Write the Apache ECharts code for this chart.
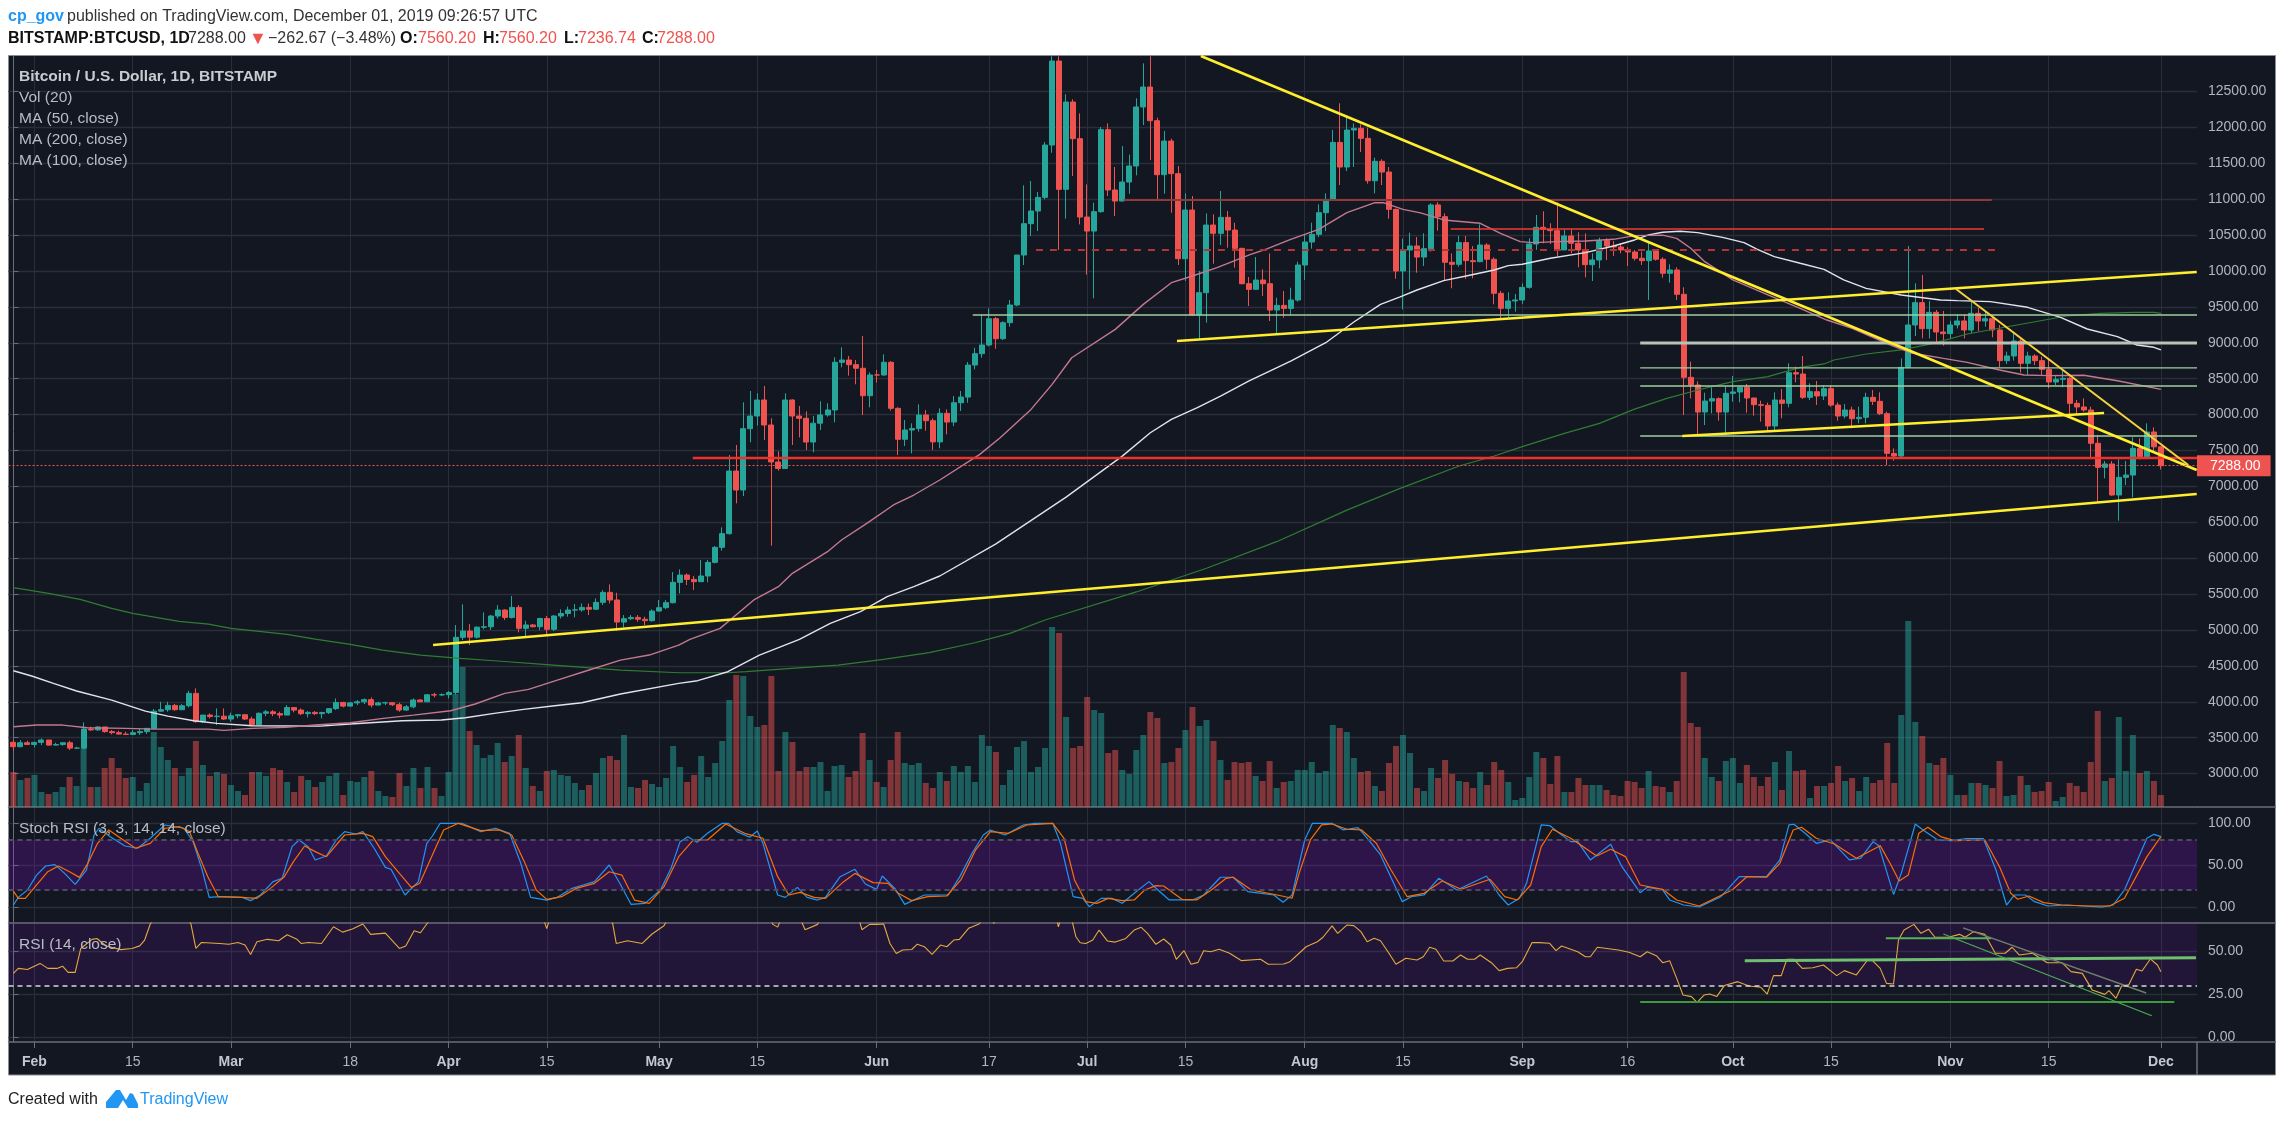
<!DOCTYPE html>
<html><head><meta charset="utf-8"><style>html,body{margin:0;padding:0;background:#fff}#c{width:2284px;height:1122px}</style>
<script src="https://cdn.jsdelivr.net/npm/echarts@6/dist/echarts.min.js"></script></head><body><div id="c"></div>
<script>
// x positions are bar numbers: 0 = 29 Jan 2019, 306 = 1 Dec 2019
const firstOpen = 3436;
const close = [3375,3430,3406,3435,3468,3397,3405,3430,3355,3355,
3620,3608,3650,3585,3570,3550,3545,3570,3585,3630,
3870,3890,3950,3890,3945,4117,3723,3815,3795,3800,
3760,3805,3820,3760,3680,3840,3860,3835,3815,3920,
3885,3835,3853,3835,3850,3905,3990,3940,3985,4000,
4030,3955,3985,3987,3960,3885,3930,4025,4000,4098,
4095,4100,4130,4898,4985,4900,5040,5045,5195,5278,
5175,5315,5023,5070,5045,5160,5010,5195,5230,5278,
5280,5315,5290,5385,5524,5418,5111,5158,5175,5150,
5130,5264,5311,5380,5664,5766,5705,5673,5752,5942,
6151,6342,7214,6950,7804,7980,8203,7855,7340,7250,
8203,7980,7948,7618,7880,7995,8064,8728,8760,8695,
8645,8263,8552,8551,8728,8087,7656,7785,7805,7994,
7915,7620,8018,7896,8165,8244,8690,8848,8969,9335,
9057,9280,9526,10222,10659,10835,11025,11754,12924,11137,
12353,11843,10751,10556,10826,11968,11128,10974,11239,11462,
12284,12562,12093,11341,11810,11355,10171,10849,9386,9698,
10640,10524,10747,10570,10315,9823,9744,9874,9823,9456,
9521,9479,9595,10083,10403,10510,10812,10988,11791,11448,
11963,11986,11847,11257,11527,11378,10858,10000,10292,10348,
10194,10311,10920,10757,10121,10093,10395,10144,10130,10362,
10163,9689,9480,9582,9596,9772,10376,10608,10580,10562,
10293,10488,10386,10293,10088,10153,10423,10348,10334,10293,
10265,10177,10144,10279,10163,9968,10014,9675,8519,8412,
8036,8189,8222,8036,8296,8315,8380,8231,8138,8129,
7841,8203,8157,8584,8565,8240,8319,8259,8361,8133,
7980,8064,7943,7962,8240,8185,8013,7460,7423,8658,
9248,9559,9197,9424,9150,9127,9248,9304,9178,9410,
9303,9336,9178,8751,8816,9025,8714,8816,8751,8630,
8454,8491,8505,8157,8106,8064,7600,7265,7312,6880,
7126,7158,7530,7414,7757,7551,7288];
const high = [3467,3467,3458,3444,3490,3467,3430,3434,3458,3374,
3713,3653,3662,3644,3606,3597,3583,3606,3630,3630,
3900,4000,4000,3968,3968,4154,4187,3815,3838,3908,
3908,3848,3829,3824,3792,3853,3885,3885,3862,3955,
3922,3908,3871,3871,3862,3908,4047,4000,4000,4024,
4047,4061,4000,4000,3987,3987,3955,4047,4038,4108,
4126,4117,4150,5069,5357,5083,5050,5245,5210,5347,
5290,5473,5347,5130,5083,5170,5195,5208,5287,5325,
5362,5370,5370,5440,5556,5635,5519,5208,5208,5208,
5185,5287,5417,5417,5807,5844,5788,5752,5975,5975,
6170,6430,7437,7577,8171,8329,8296,8398,7948,7488,
8296,8213,8120,8045,7980,8185,8157,8798,8937,8816,
8760,9095,8589,8621,8839,8746,8101,7925,7878,8143,
8064,7948,8087,8072,8258,8328,8732,8931,9396,9479,
9360,9300,9595,10222,11193,11253,11100,11796,12990,12990,
12460,12390,12195,11206,10951,12005,12056,11448,11740,11620,
12404,12892,12990,12135,11949,11843,11462,11081,11044,10000,
10802,10789,11114,10835,10672,10324,9916,10194,10023,10245,
9628,9721,9767,10129,10510,10672,10928,11081,11963,12335,
12135,12056,12042,11996,11578,11555,11448,10870,10450,10533,
10473,10525,10943,10957,10803,10246,10492,10488,10348,10650,
10386,10190,9722,9703,9680,9828,10455,10780,10831,10664,
10957,10571,10580,10539,10525,10246,10464,10455,10418,10376,
10330,10293,10270,10409,10302,10190,10093,10051,9773,8737,
8463,8305,8380,8240,8389,8538,8389,8426,8235,8194,
8166,8310,8356,8714,8667,8816,8435,8468,8412,8412,
8170,8147,8110,8110,8305,8342,8310,8040,7530,8783,
10348,9828,9944,9582,9457,9443,9308,9396,9396,9582,
9489,9433,9378,9248,8876,9155,9062,8876,8839,8807,
8783,8551,8621,8530,8203,8226,8110,7715,7353,7353,
7376,7353,7683,7669,7878,7822,7560];
const low = [3319,3365,3397,3365,3397,3388,3397,3388,3328,3342,
3337,3597,3597,3570,3546,3546,3537,3537,3537,3551,
3620,3862,3862,3875,3885,3922,3709,3709,3769,3676,
3746,3723,3769,3746,3667,3676,3801,3801,3769,3815,
3853,3815,3783,3815,3769,3830,3885,3922,3931,3955,
3968,3922,3955,3955,3941,3862,3875,3908,3997,3997,
4061,4080,4047,4100,4860,4790,4880,5010,5000,5160,
5140,5160,4967,4906,5036,5000,4944,4985,5160,5185,
5176,5255,5208,5278,5347,5370,4990,5036,5138,5115,
5069,5115,5255,5290,5370,5510,5626,5557,5673,5664,
5928,6105,6327,6764,6866,7614,7846,7646,6174,7219,
7247,7577,7683,7507,7474,7785,7971,7892,8658,8542,
8422,7994,8101,8445,8542,8055,7437,7563,7460,7762,
7776,7507,7530,7724,7840,8050,8165,8630,8792,8950,
8917,9038,9224,9510,10083,10487,10556,10998,11647,10292,
10728,11322,10649,9948,9619,10812,11044,10765,10974,11076,
11332,12033,11545,10974,11076,10812,10083,9860,9373,9047,
9280,10101,10361,10324,10046,9814,9512,9744,9651,9303,
9117,9349,9382,9572,9874,10310,10470,10556,10979,11197,
11392,11448,11657,11216,11081,11197,10728,9893,9465,9744,
9976,10070,10270,10562,9866,9759,10060,9889,9898,10121,
10023,9536,9331,9355,9434,9540,9754,10293,10385,10376,
10209,10293,10246,10051,9912,9861,10037,10153,10209,10246,
10070,10144,10084,9596,10144,9907,9838,9596,7994,8227,
7730,7855,8018,7915,7716,8180,8171,8027,7985,7902,
7776,7786,7948,8101,8449,8217,8203,8134,8203,8110,
7915,7948,7808,7878,7878,8133,7994,7298,7358,7390,
8644,9094,9062,9062,8992,8960,9062,9201,9062,9132,
9164,9225,9076,8658,8705,8751,8584,8551,8690,8542,
8366,8412,8380,8008,8003,8040,7400,6787,7112,6870,
6522,7019,6847,7377,7414,7469,7236];
const volume = [35,27,29,32,15,13,15,20,30,21,
59,20,20,39,49,39,29,30,16,24,
75,60,47,39,31,39,66,42,31,35,
33,22,16,12,35,35,31,39,37,25,
15,31,27,20,25,31,34,12,26,25,
30,36,16,11,10,34,21,39,19,40,
19,11,35,113,140,76,62,49,52,64,
45,51,72,39,21,16,36,37,32,31,
24,17,22,34,49,51,47,72,20,19,
27,23,20,29,61,40,25,32,51,30,
44,66,107,132,131,91,80,82,131,36,
75,65,36,40,40,45,16,41,42,30,
36,74,47,25,20,47,75,44,42,44,
24,19,35,26,41,35,41,25,72,61,
55,22,37,60,66,35,40,59,180,174,
90,59,61,110,97,94,54,57,37,33,
57,72,95,89,44,45,59,77,100,81,
87,66,47,27,45,44,45,31,26,46,
19,25,26,37,37,45,34,36,82,79,
75,49,35,36,21,16,44,61,72,54,
19,16,39,29,47,33,26,25,19,35,
22,45,37,25,7,9,30,55,49,23,
51,15,15,29,22,22,22,17,12,11,
26,25,19,36,21,20,15,26,135,84,
80,49,30,26,46,49,24,42,30,21,
30,45,17,56,36,37,9,21,21,24,
41,26,29,16,30,24,27,64,24,92,
186,85,71,44,42,49,32,12,12,24,
24,22,19,46,11,12,31,22,15,16,
25,6,10,24,21,15,45,96,26,29,
90,36,72,34,36,26,12];

const ma200 = [[0,5589],[5,5510],[9.5,5426],[14,5301],[17,5232],[23.6,5120],[27.8,5083],[31,5022],[39,4939],[43,4874],[48,4800],[52.6,4721],[58,4651],[63.7,4605],[69,4568],[75.5,4521],[81.7,4475],[86.5,4442],[94.8,4405],[101.7,4405],[104.4,4419],[110.9,4466],[117.5,4512],[124,4591],[130.5,4684],[137,4823],[142,4953],[147,5139],[160,5530],[170,5860],[180,6230],[190,6670],[197.6,6973],[206,7284],[211,7423],[215,7553],[221,7739],[226,7878],[230.9,8073],[235.6,8226],[240,8343],[245,8459],[250,8528],[254.6,8658],[258,8705],[259.4,8760],[264,8844],[269,8900],[273.6,8992],[278.4,9122],[285.5,9248],[292.6,9373],[297.4,9410],[302.2,9424],[305,9424],[306,9410]];
const ma100 = [[0,4433],[2.6,4359],[5.7,4256],[9,4150],[14,4024],[18.8,3871],[22,3801],[25.7,3736],[29,3699],[34,3667],[43.7,3662],[48,3690],[55.4,3736],[61,3746],[64.4,3778],[68.5,3839],[72.7,3894],[76.8,3941],[81,3987],[86.5,4108],[94.8,4256],[97.5,4294],[101.8,4419],[106.3,4651],[112,4870],[116.4,5093],[120.7,5255],[124.5,5464],[128.3,5603],[132,5752],[140,6200],[150,6850],[158,7422],[162,7747],[165,7933],[168.7,8096],[172,8258],[176,8467],[182,8746],[187,9001],[191,9289],[194.8,9535],[197.6,9640],[200,9735],[203.8,9866],[207,9930],[211,10014],[213,10075],[215,10093],[219,10177],[224,10256],[228,10348],[231,10432],[233,10502],[235,10539],[237.5,10553],[240,10534],[243.7,10464],[246.6,10395],[248.5,10302],[250.9,10200],[254.6,10107],[258,10023],[260.8,9875],[264,9758],[269,9666],[274.6,9596],[277,9587],[281.7,9573],[287,9494],[291.7,9355],[295.5,9192],[299.8,9085],[302.6,8969],[305,8937],[306,8900]];
const ma50 = [[0,3653],[3.3,3676],[7,3676],[10.5,3639],[16,3630],[20,3620],[27.8,3620],[30,3602],[34,3630],[38.8,3644],[43,3676],[48,3708],[52.7,3769],[57,3815],[62.3,3876],[65.8,3969],[70,4117],[73.4,4173],[77.5,4303],[81.7,4433],[86.5,4581],[90.6,4651],[94.8,4790],[96.4,4870],[100.7,5023],[105.5,5418],[109,5603],[111,5789],[116,6091],[118,6253],[121.6,6485],[125.4,6741],[128.3,6880],[132,7089],[137.7,7446],[140.6,7678],[145,8072],[148,8421],[150.8,8792],[157,9187],[161,9535],[165,9837],[168,9930],[171.5,10046],[176.3,10231],[178.7,10310],[182,10440],[186,10580],[190,10812],[194,10951],[195.2,10951],[198,10858],[200.5,10810],[203.8,10711],[209,10664],[211.9,10525],[214.7,10409],[216.6,10395],[219.9,10409],[224,10418],[228,10441],[231,10492],[235,10500],[237,10455],[239,10316],[241,10130],[245,9875],[250,9666],[254.6,9480],[258.4,9317],[262,9201],[267.5,8969],[270.3,8862],[275,8783],[278.4,8728],[283,8621],[286.5,8551],[290,8542],[295,8547],[299.8,8472],[306,8352]];

const stochK = [[0,2.4],[0.7,11.5],[2,20.2],[3.3,38],[4.6,48.8],[5.9,50.4],[7.3,40],[8.8,27],[10.4,44],[11.5,85.7],[12.2,93.7],[13.8,83.7],[15.9,72.6],[17.7,69.9],[19.5,81.8],[21.6,97.6],[24.3,93.7],[25.6,77.8],[26.9,44],[27.9,11.5],[29.4,12.3],[32.6,11.5],[33.8,7.6],[35.2,14.3],[37,30.2],[38.3,34.2],[39.7,71.8],[40.7,79.8],[42,71.8],[43,56],[44.6,60.7],[46,79.8],[47.2,89.7],[48.8,86.9],[49.8,89.7],[51.4,69.9],[53,47.2],[53.8,44.9],[55.8,14.3],[57.7,30.2],[58.9,75.8],[59.7,84.5],[60.8,99.6],[63.9,99.6],[66.6,89.7],[68.7,93.7],[70.7,87.7],[72.3,52],[73.7,11.5],[76,8.3],[77.5,11.5],[79.6,22.2],[81.2,26.2],[82.8,30.2],[84.9,50],[86.4,28.2],[88,3.2],[90,4.4],[92.2,20.2],[93.7,46],[95,77.8],[96.1,83.7],[97.4,77],[98.9,87.7],[101,99.6],[101.9,99.6],[103.1,89.7],[104.9,83],[106,90.5],[106.8,75.8],[108.9,14.3],[110,11.5],[111.7,23.4],[113.1,11.5],[114.6,8.3],[115.7,11.5],[117.8,36.1],[119.9,44.9],[121.4,27.4],[123,21],[123.8,36.9],[125.6,22.2],[127,3.2],[129.8,14.3],[133.2,14.3],[134.8,35.3],[136.6,64],[138.2,85.7],[139.2,91.7],[141.3,85.7],[143.9,97.6],[145.5,99.6],[148.1,99.6],[149.2,75.8],[151,12.3],[152.4,10.3],[153.3,0.4],[155,10.3],[156.5,10.3],[158,4.4],[159.7,16.3],[161.8,30.2],[162.8,22.3],[164.7,8.4],[168,8.4],[169.6,14.3],[172,35.4],[173.8,35.4],[175.9,18.3],[179.6,14.3],[180.9,5.6],[182.2,14.3],[184,79.8],[185.1,99.6],[187.9,99.6],[189.5,91.7],[191.6,94.5],[193.1,79.8],[194.8,62],[197.9,6.4],[199.2,12.3],[201,14.3],[203.1,34.2],[205.7,20.3],[209.9,36.9],[211.7,14.3],[213,2.4],[214.6,10.4],[215.6,28.2],[217.7,97.7],[218.9,96.9],[220.3,87.7],[221.9,77.8],[222.9,77.8],[224.7,56],[227.6,74.6],[229.2,48],[231.8,17.1],[232.8,23.5],[235,20.3],[236,8.4],[238,2.4],[240.2,0],[243.3,12.3],[245.9,36.1],[249.8,36.1],[251.7,56],[253,97.7],[253.7,98.5],[255.3,87.7],[256.9,75.8],[258.9,79.8],[261.6,56],[263.2,58],[265,77.8],[265.8,73],[267.9,15],[269,40],[271,98.8],[272.1,91.7],[274.2,79.8],[276.2,79],[278.3,81.4],[280.7,81.4],[282.5,44],[284,2.4],[285.1,14.3],[286.7,14.3],[288,6.4],[289.9,1.2],[292.5,2.4],[295.1,1.2],[297.7,0],[299.2,2.4],[300.8,20.3],[304,81.8],[305,86.5],[306,83.8]];
const stochD = [[0,19],[0.7,10.3],[1.7,10.3],[3.1,24.2],[4.9,42],[6.4,48.8],[8,42],[9.4,35.3],[10.6,52],[12,75.8],[13.6,91.7],[15.3,81.8],[17.4,69.9],[19.5,75.8],[21.6,93.7],[23.7,95.6],[25.1,89.7],[26.3,64],[27.7,36.1],[29.2,12.3],[32.6,11.5],[34.7,10.3],[36.8,23.4],[38.6,36.1],[39.9,54],[41.5,72.6],[43,65.9],[44.6,59.9],[47.2,85.7],[49.8,87.7],[51.2,83.7],[53,59.9],[55,40],[56.7,23.4],[57.9,28.2],[59.7,61.9],[61.3,91.7],[63.4,99.6],[66.6,90.9],[69.2,91.7],[71,85.7],[72.8,54],[74.5,20.2],[76,9.1],[78.1,12.3],[80.2,22.2],[82.8,28.2],[84.9,42],[86.7,38],[88.5,8.3],[90.6,4.4],[92.7,24.2],[94.8,59.9],[96.9,79.8],[98.9,79.8],[101.5,98.8],[104.2,87.7],[106.8,81.8],[108.9,36.1],[110.5,14.3],[112.1,17.5],[114.1,11.5],[115.7,10.3],[118.3,30.2],[119.9,40],[122.5,29],[124.6,28.2],[126.1,16.3],[128,7.6],[130.3,12.3],[133,13.1],[135,32.2],[137.1,67.9],[139.2,89.7],[141.8,87.7],[144.4,97.6],[148.1,99.6],[149.7,81.8],[151.2,32.2],[152.8,6.4],[154.4,4.4],[156,10.3],[158,7.6],[159.7,8.4],[161.2,20.3],[162.8,25.4],[163.9,25],[166.5,9.2],[168.6,8.4],[170.7,20.3],[172.8,34.2],[173.8,35.4],[176.4,20.3],[180.1,14.3],[182.2,10.4],[183.2,40],[184.8,79.8],[186.4,97.7],[187.9,98.8],[190,92.5],[192.1,91.7],[194.2,75.8],[196.3,44],[198.6,12.3],[201,16.3],[203.6,31],[206.3,21.1],[210.4,33],[212.5,12.3],[214.3,8.4],[216.2,26.2],[217.7,71.9],[219.3,92.5],[221.9,81.8],[224,69.9],[225.6,60.8],[227.6,68.7],[229.7,60],[231.8,26.2],[235,21.1],[237,8.4],[240.2,1.2],[244.9,20.3],[247,36.1],[249.8,35.4],[251.7,52],[253.6,91.7],[254.8,94.9],[256.9,81.8],[259.5,75],[262.6,58],[266,73],[267.4,52],[268.7,31],[270,38],[271.5,87.7],[272.8,94.9],[274.6,83.8],[276.6,79],[280.9,79.8],[283,48],[284.6,16.3],[285.6,9.2],[287.2,13.1],[289.3,5.2],[291.9,2.4],[295.6,1.2],[298.7,1.2],[300.8,10.4],[304,60],[306,83.8]];
const rsi = [[0,37],[0.7,39.9],[2,39.3],[3.8,42.8],[4.9,39.9],[6.2,39.9],[7,41.2],[7.8,37.6],[8.8,37.6],[9.6,51.5],[11.2,56.8],[11.9,57.3],[13.2,52.9],[15.3,50.8],[16.9,51.5],[18,53],[18.7,56.4],[19.5,65.7],[20.2,70],[24.7,70],[25.3,65.7],[26,51.5],[26.8,55],[29.4,54.4],[30.7,53.9],[32,55],[33,53.5],[33.8,48],[34.7,55.4],[36.2,56.8],[37.8,56],[39,59.5],[40.4,56.8],[41,54.4],[42,55],[43.9,54.4],[45.6,64.1],[46.9,61],[48.3,62.8],[49.8,65.7],[50.9,59.7],[53,60.4],[55,51.5],[55.9,52.9],[57.1,61.8],[58,60.6],[58.9,65.7],[59.7,70],[75.4,70],[76,63],[76.5,70],[85,70],[85.4,65.7],[85.9,54.4],[87.5,56],[89.6,54.4],[91,59.9],[92.7,64.7],[93.4,70],[107.9,70],[108.2,65.5],[108.9,63.9],[109.5,70],[112,70],[112.8,62.4],[114.6,65.5],[115.1,70],[120.4,70],[120.9,62.4],[122,65.5],[123,65.5],[124,65.7],[124.9,54.4],[125.8,48.6],[126.7,50.6],[128,50.9],[128.8,54],[129.8,52.5],[130.9,48],[132.1,53.5],[133,52.5],[134,56.4],[134.8,56.8],[136.1,63.2],[137.6,65.7],[138.4,70],[139.2,70],[139.7,66],[140.2,70],[148.6,70],[148.9,64],[149.3,70],[150.7,70],[151.4,58.3],[152,54.8],[152.8,54.4],[153.8,56.4],[154.7,62.2],[155.9,55.8],[157,55.2],[158.5,57.3],[159.7,62.2],[160.7,63.8],[161.6,60.3],[162.8,53.9],[163.9,57],[164.9,53.5],[165.7,45.2],[166.8,50.2],[167.8,42.3],[168.8,43.4],[169.6,50.2],[170.6,49.6],[171.8,51],[173.3,48.7],[175,44.4],[177.7,45.2],[178.8,42.3],[181,42.5],[181.9,43.8],[183.2,48.7],[184.2,52.5],[185.8,55.4],[186.6,58],[187.9,64.6],[188.7,60.3],[190,65.1],[191,64.8],[192,61.3],[192.9,55.4],[193.9,57.4],[194.8,56],[196,48.7],[197,42.3],[198.4,45.8],[200,44.8],[200.9,46.7],[201.8,52.2],[202.7,51],[203.8,44.2],[205.1,44.2],[206.2,47.7],[207.2,45.2],[208.2,45.2],[209,47.7],[210.6,43.2],[211.7,38.6],[212.9,39.9],[214.2,40.3],[215,43.8],[216.4,54.9],[217.4,54.9],[218.9,54.5],[219.8,50.2],[220.6,52.9],[222.9,49.6],[224,46.7],[224.7,46.7],[225.7,52.2],[228.7,50.6],[230.2,49.3],[231.8,46.7],[232.8,49.6],[234.1,47.3],[235,43.2],[236,44.4],[237,34.1],[237.9,24.4],[239.1,23.5],[239.9,20.2],[240.9,24.4],[241.7,25],[242.7,23.5],[243.8,29.9],[245.7,32.2],[247.3,29.7],[249,28.9],[249.9,25],[250.8,35.7],[251.9,35.7],[252.7,45.2],[253.7,45.2],[254.9,39.9],[256.4,40.3],[257.9,41.9],[259.8,35.7],[260.9,38.6],[262.6,36.1],[264.2,44.8],[264.8,44.8],[266,39.9],[266.9,31.2],[267.9,30.8],[268.6,56.4],[269.4,62.2],[270.8,65.5],[271.8,60.3],[272.9,62.6],[273.8,58],[275.7,58],[277.3,59.7],[278.1,58],[279.3,61.3],[280.9,59.7],[282.4,48.7],[283.8,48.7],[284.8,52.2],[285.8,47.7],[287.7,48.7],[289.8,43.2],[291.9,43.2],[293.2,38],[294.8,37],[296.2,27.4],[298,24.8],[298.6,27],[299.6,22.5],[300.4,29.7],[301.4,30.3],[302.5,39.4],[303.3,38.4],[304.5,45.4],[305.5,41.9],[306,38]];

const tickBars = [3,17,31,48,62,76,92,106,123,139,153,167,184,198,215,230,245,259,276,290,306];
const tickNames = ['Feb','15','Mar','18','Apr','15','May','15','Jun','17','Jul','15','Aug','15','Sep','16','Oct','15','Nov','15','Dec'];
const priceTicks = [3000,3500,4000,4500,5000,5500,6000,6500,7000,7500,8000,8500,9000,9500,10000,10500,11000,11500,12000,12500];
const stochTicks = [0,50,100];
const rsiTicks = [0,25,50];

// drawn annotations: [[bar,price],[bar,price]]
const yellowTrends = [[[169.2,12994],[311.1,7228]],[[59.8,4791],[311.1,6894]],[[165.8,9025],[311.1,9986]],[[237.8,7702],[297.9,8022]]];
const steepTrend = [[276.8,9749],[309.9,7298]];
const redLevel = [[96.8,7395],[311.14,7395]];
const redThin = [[204.8,10585],[280.8,10585]];
const brownLevel = [[158.2,10989],[281.9,10989]];
const dashedLevel = [[145.7,10292],[282.9,10292]];
const greenLevels = [[[136.7,9387],[311.14,9387]],[[231.8,8650],[311.14,8650]],[[231.8,8398],[311.14,8398]],[[231.8,7702],[311.14,7702]]];
const greyLevel = [[231.8,8997],[311.14,8997]];
const rsiDarkGreen = [[231.8,20.3],[307.9,20.3]];
const rsiWideGreen = [[246.7,44.4],[311,46.1]];
const rsiShortGreen = [[266.8,57.4],[281.8,57.4]];
const rsiGreyDiag = [[277.8,63.5],[303.9,25.6]];
const rsiGreenDiag = [[275,59.9],[304.7,12.4]];

const UP='#26a69a', DOWN='#ef5350', FONT='"Liberation Sans", sans-serif', TXT='#b2b5be', GRID='#2a2e39', EDGE='#6b6e78';
const open = close.map((c,k)=> k===0 ? firstOpen : close[k-1]);
const candles = close.map((c,k)=>[k,open[k],c,low[k],high[k]]);
const volBars = volume.map((v,k)=>({value:[k,v],itemStyle:{color: close[k]>=open[k] ? 'rgba(38,166,154,0.5)' : 'rgba(239,83,80,0.5)'}}));
const tickLabel = v => { const i=tickBars.indexOf(v); if(i<0) return ''; const n=tickNames[i]; return /\d/.test(n) ? n : '{m|'+n+'}'; };

const xAxisBase = (gridIndex,showLabel)=>({type:'value',gridIndex,min:-0.7,max:311.14,
  axisLine:{onZero:false,show:true,lineStyle:{color:EDGE,width:1.5}},
  axisTick:{show:showLabel,customValues:tickBars,length:6,lineStyle:{color:EDGE}},
  axisLabel:{show:showLabel,customValues:tickBars,margin:13,color:TXT,fontFamily:FONT,fontSize:14,formatter:tickLabel,hideOverlap:false,
    rich:{m:{fontWeight:'bold',color:'#c4c7cf',fontFamily:FONT,fontSize:14}}},
  splitLine:{show:true,lineStyle:{color:GRID,width:1}}});
const yAxisBase = (gridIndex,min,max,ticks)=>({type:'value',gridIndex,position:'right',min,max,
  axisLine:{show:true,lineStyle:{color:EDGE,width:1}},
  axisTick:{show:true,length:5,customValues:ticks,lineStyle:{color:EDGE}},
  axisLabel:{customValues:ticks,margin:11,padding:[3,0,0,0],color:TXT,fontFamily:FONT,fontSize:14,formatter:v=>v.toFixed(2)},
  splitLine:{show:true,lineStyle:{color:GRID,width:1.4}}});

const ln = (name,data,color,width,x,y,extra)=>Object.assign({type:'line',name,data,xAxisIndex:x,yAxisIndex:y,symbol:'none',silent:true,clip:true,
  lineStyle:Object.assign({color,width},extra||{})});

const series = [
 {type:'bar',name:'Vol',xAxisIndex:0,yAxisIndex:1,data:volBars,barWidth:6,silent:true},
 {type:'candlestick',name:'BTCUSD',xAxisIndex:0,yAxisIndex:0,data:candles,barWidth:5.5,silent:true,clip:true,
  itemStyle:{color:UP,color0:DOWN,borderColor:UP,borderColor0:DOWN,borderWidth:1},
  markLine:{silent:true,symbol:'none',animation:false,data:[{yAxis:7288}],lineStyle:{color:'#ef5350',type:[2,2],width:1},
   label:{show:true,position:'end',distance:0,formatter:'7288.00',backgroundColor:'#ef5350',color:'#fff',fontFamily:FONT,fontSize:14,padding:[4,10,3,13]}}},
 ln('MA 200',ma200,'#2e7d32',1.2,0,0),
 ln('MA 100',ma100,'#e0e3eb',1.4,0,0),
 ln('MA 50',ma50,'#c2798f',1.4,0,0),
 ln('Level 11000',brownLevel,'#8e3a3a',2,0,0),
 ln('Level 10300',dashedLevel,'#b23434',2,0,0,{type:[7,7]}),
 ln('Level 10600',redThin,'#f23a32',1.4,0,0),
 ln('Level 9000',greyLevel,'#b5c2b5',3,0,0),
 ...greenLevels.map((d,i)=>ln('Green level '+i,d,'#9fce9f',1.4,0,0)),
 ln('Level 7400',redLevel,'#f0302a',2.4,0,0),
 ...yellowTrends.map((d,i)=>ln('Trend '+i,d,'#ffee2e',i===3?2.4:2.6,0,0)),
 ln('Steep trend',steepTrend,'#f5d33a',2,0,0),
 ln('%K',stochK,'#2196f3',1.2,1,2),
 ln('%D',stochD,'#ff6d00',1.2,1,2),
 ln('RSI',rsi,'#e5a93f',1.1,2,3),
 ln('RSI support',rsiDarkGreen,'#3f9a3f',2,2,3),
 ln('RSI mid',rsiWideGreen,'#6fbf6f',3,2,3),
 ln('RSI short',rsiShortGreen,'#58b058',2,2,3),
 ln('RSI grey diag',rsiGreyDiag,'#6d7f6d',1.4,2,3),
 ln('RSI green diag',rsiGreenDiag,'#4caf50',1.2,2,3),
];
const kSeries = series.find(s=>s.name==='%K');
kSeries.markArea={silent:true,itemStyle:{color:'rgba(140,20,220,0.22)'},data:[[{yAxis:20},{yAxis:80}]]};
kSeries.markLine={silent:true,symbol:'none',label:{show:false},lineStyle:{color:'#4e4c60',type:[5,4],width:2},data:[{yAxis:80},{yAxis:20}]};
const rSeries = series.find(s=>s.name==='RSI');
rSeries.markArea={silent:true,itemStyle:{color:'rgba(140,20,220,0.12)'},data:[[{yAxis:30},{yAxis:70}]]};
rSeries.markLine={silent:true,symbol:'none',label:{show:false},lineStyle:{color:'#d6d8de',type:[5,4],width:1.5},data:[{yAxis:30}]};

const T=(text,x,y,fill,size,weight)=>({type:'text',z:50,silent:true,style:{text,x,y,fill,font:(weight||'normal')+' '+size+'px '+FONT,verticalAlign:'middle'}});
const rule=(x1,y1,x2,y2)=>({type:'line',z:20,silent:true,shape:{x1,y1,x2,y2},style:{stroke:EDGE,lineWidth:1.5}});
const chart = echarts.init(document.getElementById('c'),null,{renderer:'canvas'});
chart.setOption({
 animation:false,
 grid:[{left:8.5,right:87,top:56,height:751},{left:8.5,right:87,top:807,height:116},{left:8.5,right:87,top:923,height:119}],
 xAxis:[xAxisBase(0,false),xAxisBase(1,false),xAxisBase(2,true)],
 yAxis:[yAxisBase(0,2535,12994,priceTicks),{type:'value',gridIndex:0,show:false,min:0,max:751,splitLine:{show:false}},yAxisBase(1,-19,119,stochTicks),yAxisBase(2,-2.9,66.3,rsiTicks)],
 series,
 graphic:[
  {type:'rect',z:-5,silent:true,shape:{x:8.5,y:55.5,width:2267,height:1019.5},style:{fill:'#131722',stroke:'#8a8d95',lineWidth:1}},
  rule(2197,807,2276,807),rule(2197,923,2276,923),rule(2197,1042,2276,1042),rule(2197,1042,2197,1075),
  T('cp_gov',8,17,'#2196f3',16,'bold'),
  T('published on TradingView.com, December 01, 2019 09:26:57 UTC',67,17,'#333',16),
  T('BITSTAMP:BTCUSD, 1D',8,39,'#111',16,'bold'),
  T('7288.00',188,39,'#333',16),
  T('▼',249,39,'#ef5350',18),
  T('−262.67 (−3.48%)',268,39,'#333',16),
  T('O:',400,39,'#111',16,'bold'),T('7560.20',418,39,'#ef5350',16),
  T('H:',483,39,'#111',16,'bold'),T('7560.20',499,39,'#ef5350',16),
  T('L:',564,39,'#111',16,'bold'),T('7236.74',578,39,'#ef5350',16),
  T('C:',642,39,'#111',16,'bold'),T('7288.00',657,39,'#ef5350',16),
  T('Bitcoin / U.S. Dollar, 1D, BITSTAMP',19,77,'#c8ccd2',15.5,'bold'),
  T('Vol (20)',19,98,'#b8bcc4',15.5),
  T('MA (50, close)',19,119,'#b8bcc4',15.5),
  T('MA (200, close)',19,140,'#b8bcc4',15.5),
  T('MA (100, close)',19,161,'#b8bcc4',15.5),
  T('Stoch RSI (3, 3, 14, 14, close)',19,829,'#b8bcc4',15.5),
  T('RSI (14, close)',19,945,'#b8bcc4',15.5),
  T('Created with',8,1100,'#222',16),
  {type:'polygon',z:50,silent:true,shape:{points:[[106,1108],[106,1102],[116,1090],[120,1090],[126,1100],[130,1093],[133,1094],[138,1104],[138,1108],[128,1108],[123,1100],[118,1108]]},style:{fill:'#2196f3'}},
  T('TradingView',140,1100,'#2196f3',16)
 ]
});
</script></body></html>
